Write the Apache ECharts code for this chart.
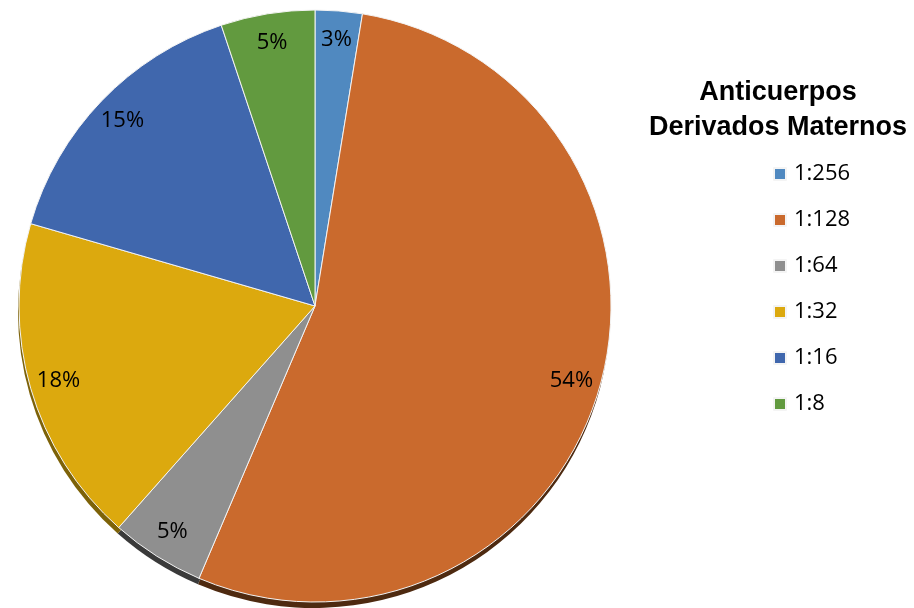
<!DOCTYPE html>
<html>
<head>
<meta charset="utf-8">
<script src="https://cdn.jsdelivr.net/npm/echarts@6/dist/echarts.min.js"></script>
<style>
html,body{margin:0;padding:0;background:#fff;}
#chart{width:914px;height:608px;}
</style>
</head>
<body>
<div id="chart"></div>
<script>
// Data
var categories = ['1:256', '1:128', '1:64', '1:32', '1:16', '1:8'];
var counts = [1, 21, 2, 7, 6, 2];
var legendTitle = 'Anticuerpos\nDerivados Maternos';

var faceColors = ['#5089C0', '#CA6A2D', '#8F8F8F', '#DCA90E', '#4067AD', '#629A3F'];
var shadowColors = ['#2C4E72', '#4E2A10', '#3A3A3A', '#7D6208', '#233E6C', '#395C24'];

var total = counts.reduce(function (a, b) { return a + b; }, 0);

function build(colors) {
  return categories.map(function (c, i) {
    return { name: c, value: counts[i], itemStyle: { color: colors[i] } };
  });
}

var chart = echarts.init(document.getElementById('chart'), null, { renderer: 'canvas' });
chart.setOption({
  animation: false,
  backgroundColor: '#fff',
  title: {
    text: legendTitle,
    left: 773,
    top: 70,
    textAlign: 'center',
    textStyle: {
      fontFamily: 'Liberation Sans, Arial, sans-serif',
      fontWeight: 'bold',
      fontSize: 27,
      lineHeight: 35,
      color: '#000'
    }
  },
  legend: {
    orient: 'vertical',
    left: 768,
    top: 158,
    itemWidth: 12,
    itemHeight: 12,
    itemGap: 24,
    icon: 'rect',
    selectedMode: false,
    data: categories,
    textStyle: {
      fontFamily: 'Open Sans, sans-serif',
      fontSize: 22,
      lineHeight: 22,
      color: '#000',
      padding: [0, 0, 0, 3]
    }
  },
  series: [
    {
      name: 'face',
      type: 'pie',
      z: 3,
      center: [315, 306],
      radius: 296,
      startAngle: 90,
      clockwise: true,
      silent: true,
      label: { show: false },
      labelLine: { show: false },
      itemStyle: { borderColor: '#f4f4f4', borderWidth: 1 },
      data: build(faceColors)
    },
    {
      name: 'shadow',
      type: 'pie',
      z: 1,
      center: [314, 312],
      radius: 296,
      startAngle: 90,
      clockwise: true,
      silent: true,
      legendHoverLink: false,
      label: { show: false },
      labelLine: { show: false },
      data: build(shadowColors)
    },
    {
      name: 'labels',
      type: 'pie',
      z: 5,
      center: [315, 306],
      radius: [231, 297],
      startAngle: 90,
      clockwise: true,
      silent: true,
      avoidLabelOverlap: false,
      itemStyle: { color: 'rgba(0,0,0,0)', borderWidth: 0 },
      label: {
        show: true,
        position: 'inside',
        formatter: function (p) { return Math.round(p.value / total * 100) + '%'; },
        fontFamily: 'Open Sans, sans-serif',
        fontSize: 22,
        color: '#000'
      },
      labelLine: { show: false },
      data: build(faceColors).map(function (d) {
        return { name: d.name, value: d.value, itemStyle: { color: 'rgba(0,0,0,0)' } };
      })
    }
  ]
});
</script>
</body>
</html>
